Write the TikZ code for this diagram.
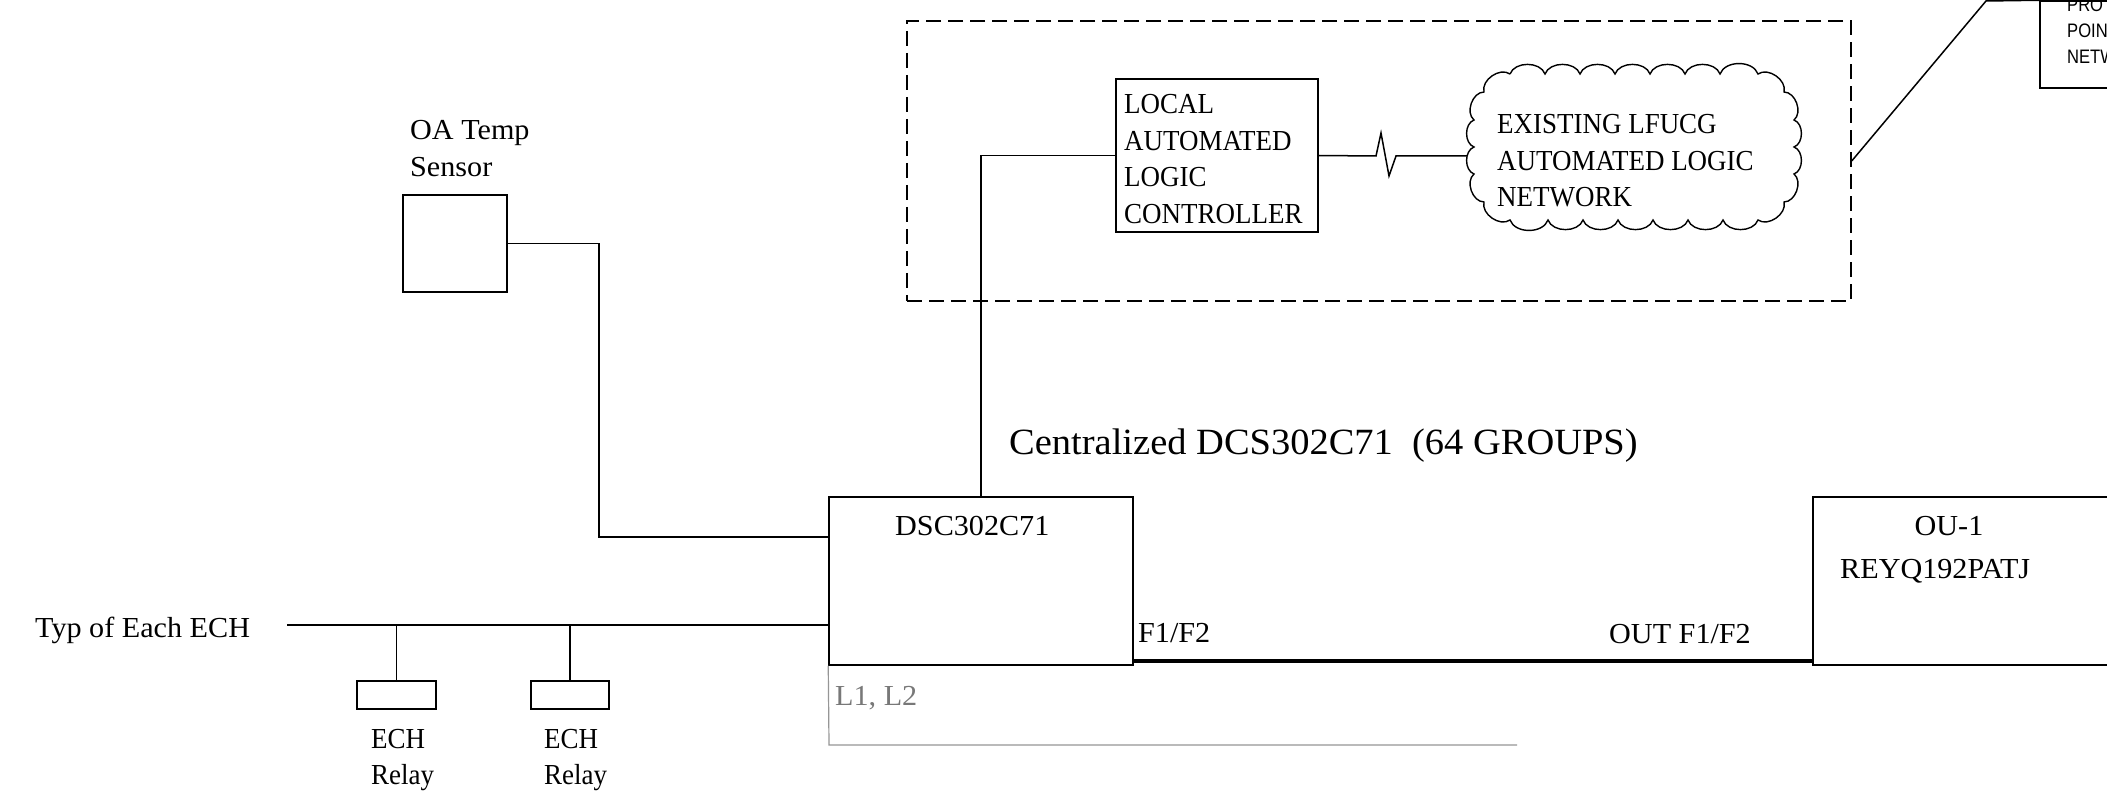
\documentclass[tikz,border=0pt]{standalone}
\usepackage{fontspec}
\setmainfont{Liberation Serif}[FakeStretch=0.93]
\newfontfamily\wideserif{Liberation Serif}[FakeStretch=1.04]
\newfontfamily\narrowsans{Liberation Sans}[FakeStretch=0.85]
\definecolor{lgray}{RGB}{150,150,150}
\definecolor{tgray}{RGB}{120,120,120}
\tikzset{
  wire/.style={draw=black, line width=1.5pt},
  bus/.style={draw=black, line width=3.5pt},
  boxnode/.style={draw=black, line width=1.5pt, inner sep=0pt, fill=none},
  grpbox/.style={draw=black, line width=1.4pt, dash pattern=on 15pt off 7pt, inner sep=0pt},
  lbl/.style={inner sep=0pt, anchor=base west, align=left, font=\fontsize{29}{36.5}\selectfont},
  wlbl/.style={inner sep=0pt, anchor=base west, align=left, font=\wideserif\fontsize{29}{36.5}\selectfont},
  biglbl/.style={inner sep=0pt, anchor=base west, font=\wideserif\fontsize{37}{44}\selectfont},
  sanslbl/.style={inner sep=0pt, anchor=base west, align=left, font=\narrowsans\fontsize{19.5}{26}\selectfont},
  puff/.style={bend left=70}
}
\begin{document}
\begin{tikzpicture}[x=1pt,y=-1pt]
\useasboundingbox (0,0) rectangle (2107,791);
\fill[white] (0,0) rectangle (2107,791);

% dashed group
\node[grpbox, minimum width=944pt, minimum height=280pt] (grp) at (1379,161) {};

% boxes
\node[boxnode, minimum width=104pt, minimum height=97pt] (oa) at (455,243.5) {};
\node[boxnode, minimum width=304pt, minimum height=168pt] (dsc) at (981,581) {};
\node[boxnode, minimum width=202pt, minimum height=153pt] (lalc) at (1217,155.5) {};
\node[boxnode, minimum width=317pt, minimum height=168pt] (ou) at (1971.5,581) {};
\node[boxnode, minimum width=120pt, minimum height=87pt] (rbox) at (2100,44.5) {};
\node[boxnode, minimum width=79pt, minimum height=28pt] (r1) at (396.5,695) {};
\node[boxnode, minimum width=78pt, minimum height=28pt] (r2) at (570,695) {};

% cloud outline (puffs along a rounded rectangle)
\draw[wire, line width=1.4pt]
  (1510,74) to[puff] (1545,74) to[puff] (1580,74) to[puff] (1615,74) to[puff] (1650,74)
  to[puff] (1685,74) to[puff] (1720,74) to[puff] (1758,74)
  to[puff] (1784,92) to[puff] (1794,120)
  to[puff] (1794,147) to[puff] (1794,174)
  to[puff] (1784,202) to[puff] (1758,220)
  to[puff] (1723,220) to[puff] (1688,220) to[puff] (1653,220) to[puff] (1618,220)
  to[puff] (1583,220) to[puff] (1548,220) to[puff] (1510,220)
  to[puff] (1484,202) to[puff] (1474,174)
  to[puff] (1474,147) to[puff] (1474,120)
  to[puff] (1484,92) to[puff] (1510,74);

% texts (multi-line nodes: base = last line)
\node[wlbl] (oatxt) at (410,176.5) {OA Temp\\Sensor};
\node[lbl] (lalctxt) at (1124,223.5) {LOCAL\\AUTOMATED\\LOGIC\\CONTROLLER};
\node[lbl] (cltxt) at (1497,207) {EXISTING LFUCG\\AUTOMATED LOGIC\\NETWORK};
\node[wlbl] (dsctxt) at (895,535) {DSC302C71};
\node[wlbl] (f1txt) at (1138,642) {F1/F2};
\node[wlbl] (outtxt) at (1609,643) {OUT F1/F2};
\node[wlbl, anchor=base] (outxt) at (1949,535) {OU-1};
\node[wlbl] (reyqtxt) at (1840,578) {REYQ192PATJ};
\node[wlbl] (typtxt) at (35,637) {Typ of Each ECH};
\node[wlbl, text=tgray] (ltxt) at (835,705) {L1, L2};
\node[lbl] (e1txt) at (371,784.5) {ECH\\Relay};
\node[lbl] (e2txt) at (544,784.5) {ECH\\Relay};
\node[biglbl] (centtxt) at (1009,454) {Centralized DCS302C71 \ (64 GROUPS)};
\node[sanslbl] (rtxt) at (2067,63.5) {PRO\\POIN\\NETW};

% coordinates
\coordinate (oaj) at (599,243.5);
\coordinate (oak) at (599,537);
\coordinate (dscin) at (829,537);
\coordinate (z1) at (1376,156);
\coordinate (z2) at (1381,133);
\coordinate (z3) at (1389,176);
\coordinate (z4) at (1396,156);
\coordinate (clin) at (1467,156);
\coordinate (dtop) at (1986,1);
\coordinate (f1) at (1133,661);
\coordinate (f2) at (1813,661);
\coordinate (g1) at (829,745);
\coordinate (g2) at (1517,745);
\coordinate (typs) at (287,625);
\coordinate (typd) at (829,625);
\coordinate (t1) at (396.5,625);
\coordinate (t2) at (570,625);

% connectors
\draw[wire] (oa.east) -- (oaj) -- (oak) -- (dscin);
\draw[wire] (dsc.north) |- (lalc.west);
\draw[wire] (lalc.east) -- (z1) -- (z2) -- (z3) -- (z4) -- (clin);
\draw[wire] (grp.east) -- (dtop) -- (rbox.north west);
\draw[bus] (f1) -- (f2);
\draw[draw=lgray, line width=1.2pt] (dsc.south west) -- (g1) -- (g2);
\draw[wire] (typs) -- (typd);
\draw[wire] (t1) -- (r1.north);
\draw[wire] (t2) -- (r2.north);
\end{tikzpicture}
\end{document}
